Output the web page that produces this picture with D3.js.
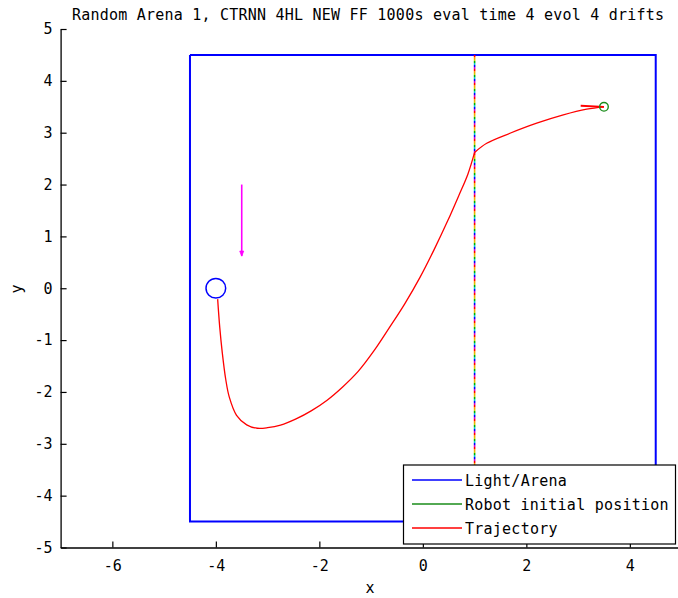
<!DOCTYPE html>
<html>
<head>
<meta charset="utf-8">
<script src="https://cdn.jsdelivr.net/npm/d3@7"></script>
<style>
  html, body { margin: 0; padding: 0; background: #fff; }
  svg { display: block; }
  text { font-family: "DejaVu Sans Mono", "Liberation Mono", monospace; fill: #000; }
</style>
</head>
<body>
<svg id="chart" width="678" height="598"></svg>
<script>
// Plot content
const titleText = "Random Arena 1, CTRNN 4HL NEW FF 1000s eval time 4 evol 4 drifts";
const xTicks = [-6, -4, -2, 0, 2, 4];
const yTicks = [5, 4, 3, 2, 1, 0, -1, -2, -3, -4, -5];
const xDomain = [-7, 5];
const yDomain = [-5, 5];

// Arena outline (corners)
const arenaX = [-4.5, 4.5, 4.5, -4.5, -4.5];
const arenaY = [4.5, 4.5, -4.5, -4.5, 4.5];

// Light source
const lightPos = [-4, 0];
const lightRadius = 0.19;

// Robot start and initial heading
const robotStart = [3.5, 3.5];
const headingX = [3.5, 3.05];
const headingY = [3.5, 3.52];

// Drift marker line
const driftX = 1;
const driftY = [4.5, -4.5];

// Light drift vector (quiver)
const quiverStart = [-3.5, 2.0];
const quiverEnd = [-3.5, 0.62];

// Robot trajectory (the light drifts when the robot reaches index 6)
const trajX = [3.5, 3.166, 2.714, 2.2, 1.684, 1.234, 1.0, 0.87, 0.7, 0.48, 0.22, -0.05,
  -0.35, -0.65, -0.95, -1.25, -1.55, -1.85, -2.15, -2.45, -2.75, -3.0, -3.2, -3.404,
  -3.6, -3.74, -3.81, -3.875, -3.925, -3.965];
const trajY = [3.5, 3.453, 3.343, 3.183, 2.989, 2.796, 2.62, 2.2, 1.8, 1.3, 0.75, 0.22,
  -0.3, -0.764, -1.214, -1.604, -1.904, -2.159, -2.36, -2.52, -2.64, -2.69, -2.70, -2.635,
  -2.45, -2.1, -1.75, -1.25, -0.75, -0.21];
const driftIndex = 6;

const legendLabels = ["Light/Arena", "Robot initial position", "Trajectory"];
const legendColors = ["#0000ff", "#1a8c1a", "#ff0000"];

const svg = d3.select("#chart");
const x = d3.scaleLinear().domain(xDomain).range([60.6, 681.6]);
const y = d3.scaleLinear().domain(yDomain).range([547.5, 29]);
const line = d3.line().x(d => x(d[0])).y(d => y(d[1]));
const smooth = d3.line().x(d => x(d[0])).y(d => y(d[1])).curve(d3.curveCatmullRom.alpha(0.5));

// Arena
svg.append("path")
  .datum(arenaX.map((v, i) => [v, arenaY[i]]))
  .attr("d", line)
  .attr("fill", "none").attr("stroke", "#0000ff").attr("stroke-width", 2);

// Drift line drawn as interleaved coloured dashes
const dashColors = ["#ff0000", "#ff9900", "#d4c400", "#00b000", "#00c8c8", "#0000ff", "#cc00cc"];
dashColors.forEach((c, i) => {
  svg.append("line")
    .attr("x1", x(driftX)).attr("x2", x(driftX))
    .attr("y1", y(driftY[0])).attr("y2", y(driftY[1]))
    .attr("stroke", c).attr("stroke-width", 1.6)
    .attr("stroke-dasharray", `2 ${2 * (dashColors.length - 1)}`)
    .attr("stroke-dashoffset", -2 * i);
});

// Trajectory, drawn in two smooth pieces joined at the drift point
const trajPts = trajX.map((v, i) => [v, trajY[i]]);
[trajPts.slice(0, driftIndex + 1), trajPts.slice(driftIndex)].forEach(seg => {
  svg.append("path")
    .datum(seg)
    .attr("d", smooth)
    .attr("fill", "none").attr("stroke", "#ff0000").attr("stroke-width", 1.3)
    .attr("stroke-linejoin", "round");
});

// Initial heading
svg.append("path")
  .datum(headingX.map((v, i) => [v, headingY[i]]))
  .attr("d", line)
  .attr("fill", "none").attr("stroke", "#ff0000").attr("stroke-width", 1.8);

// Robot start marker
svg.append("circle")
  .attr("cx", x(robotStart[0])).attr("cy", y(robotStart[1])).attr("r", 4.3)
  .attr("fill", "none").attr("stroke", "#1a8c1a").attr("stroke-width", 1.4);

// Light marker
svg.append("circle")
  .attr("cx", x(lightPos[0])).attr("cy", y(lightPos[1]))
  .attr("r", x(lightPos[0] + lightRadius) - x(lightPos[0]))
  .attr("fill", "none").attr("stroke", "#0000ff").attr("stroke-width", 1.5);

// Quiver arrow
svg.append("line")
  .attr("x1", x(quiverStart[0])).attr("y1", y(quiverStart[1]))
  .attr("x2", x(quiverEnd[0])).attr("y2", y(quiverEnd[1]))
  .attr("stroke", "#ff00ff").attr("stroke-width", 1.6);
{
  const tx = x(quiverEnd[0]), ty = y(quiverEnd[1]);
  svg.append("path")
    .attr("d", `M${tx},${ty} L${tx - 2},${ty - 5} L${tx + 2},${ty - 5} Z`)
    .attr("fill", "#ff00ff").attr("stroke", "#ff00ff").attr("stroke-width", 0.8);
}

// Axes (ticks pointing inward, no box)
const fontSize = 15;
const yAxis = svg.append("g").attr("transform", `translate(${x(xDomain[0])},0)`)
  .call(d3.axisLeft(y).tickValues(yTicks).tickSizeInner(-6).tickSizeOuter(0).tickPadding(8)
    .tickFormat(d => d < 0 ? "-" + Math.abs(d) : String(d)));
const xAxis = svg.append("g").attr("transform", `translate(0,${y(yDomain[0])})`)
  .call(d3.axisBottom(x).tickValues(xTicks).tickSizeInner(-6).tickSizeOuter(0).tickPadding(13)
    .tickFormat(d => d < 0 ? "-" + Math.abs(d) : String(d)));
[xAxis, yAxis].forEach(g => {
  g.select(".domain").attr("stroke", "#000").attr("stroke-width", 1.3);
  g.selectAll(".tick line").attr("stroke", "#000").attr("stroke-width", 1.2);
  g.selectAll(".tick text")
    .attr("font-family", "DejaVu Sans Mono").attr("font-size", fontSize).attr("fill", "#000");
});

// Axis labels and title
svg.append("text").attr("x", 370).attr("y", 593).attr("text-anchor", "middle")
  .attr("font-size", fontSize).text("x");
svg.append("text").attr("transform", "translate(22,289) rotate(-90)").attr("text-anchor", "middle")
  .attr("font-size", fontSize).text("y");
svg.append("text").attr("x", 72).attr("y", 20)
  .attr("font-size", fontSize).attr("textLength", 592).attr("lengthAdjust", "spacing")
  .text(titleText);

// Legend
const lg = svg.append("g");
lg.append("rect").attr("x", 403.5).attr("y", 465).attr("width", 272).attr("height", 79)
  .attr("fill", "#fff").attr("stroke", "#000").attr("stroke-width", 1.2);
legendLabels.forEach((lab, i) => {
  const ly = 480 + i * 24;
  lg.append("line").attr("x1", 412).attr("x2", 462).attr("y1", ly).attr("y2", ly)
    .attr("stroke", legendColors[i]).attr("stroke-width", 1.5);
  lg.append("text").attr("x", 465).attr("y", ly + 6).attr("font-size", fontSize)
    .attr("textLength", lab.length * 9.25).attr("lengthAdjust", "spacing").text(lab);
});
</script>
</body>
</html>
